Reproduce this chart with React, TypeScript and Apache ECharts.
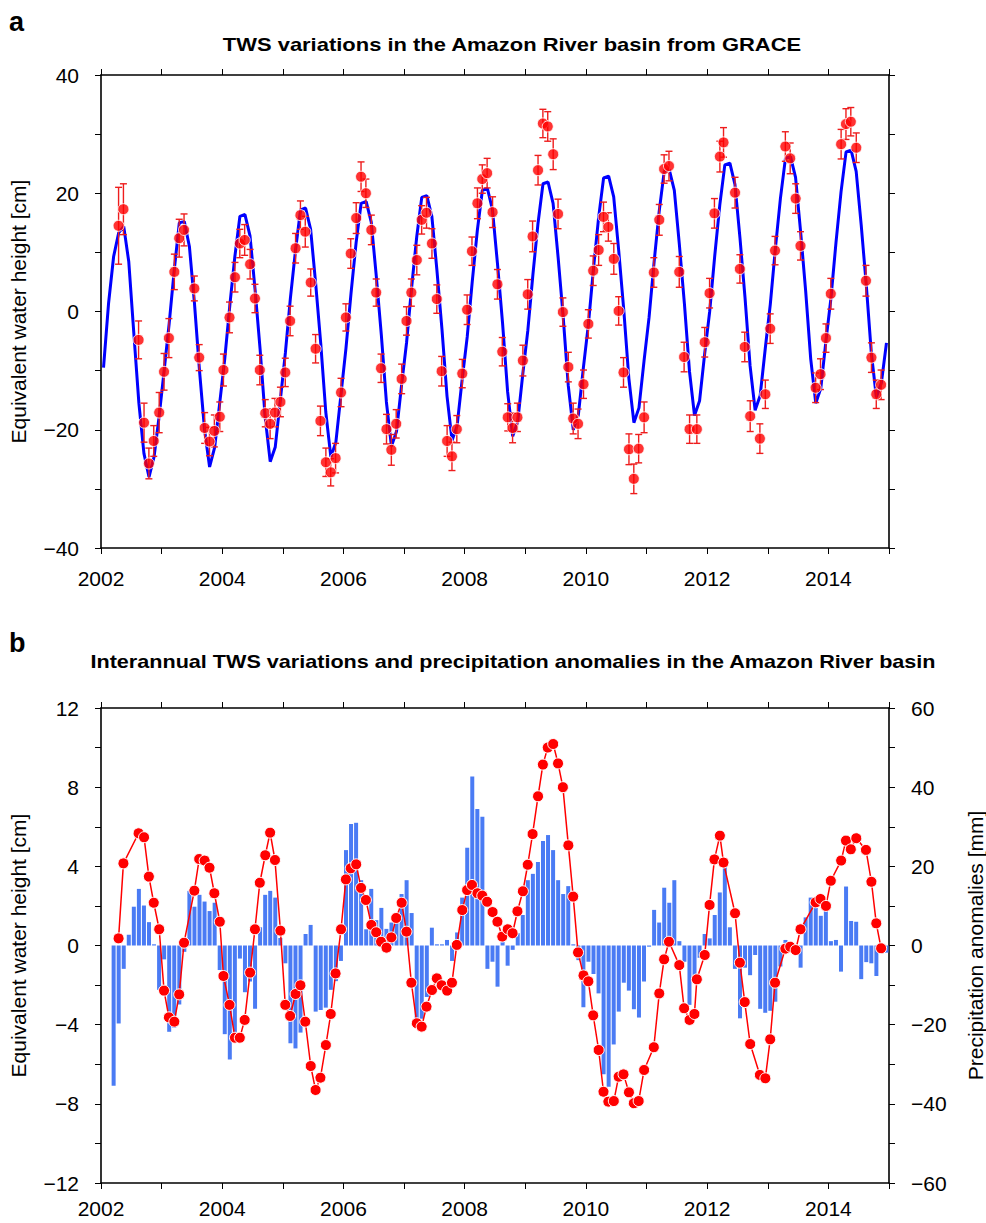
import React, { useEffect, useRef } from 'react';
import * as echarts from 'echarts';

const FONT = '"Liberation Sans", Arial, Helvetica, sans-serif';

// ---------- Panel a: GRACE monthly TWS (cm) ----------
const graceTimes = [
  2002.29, 2002.37, 2002.62, 2002.71, 2002.79, 2002.87, 2002.96,
  2003.04, 2003.12, 2003.21, 2003.29, 2003.37, 2003.54, 2003.62, 2003.71, 2003.79, 2003.87, 2003.96,
  2004.02, 2004.12, 2004.21, 2004.29, 2004.37, 2004.46, 2004.54, 2004.62, 2004.71, 2004.79, 2004.87, 2004.96,
  2005.04, 2005.12, 2005.21, 2005.29, 2005.37, 2005.46, 2005.54, 2005.62, 2005.71, 2005.79, 2005.87, 2005.96,
  2006.04, 2006.12, 2006.21, 2006.29, 2006.37, 2006.46, 2006.54, 2006.62, 2006.71, 2006.79, 2006.87, 2006.96,
  2007.04, 2007.12, 2007.21, 2007.29, 2007.37, 2007.46, 2007.54, 2007.62, 2007.71, 2007.79, 2007.87, 2007.96,
  2008.04, 2008.12, 2008.21, 2008.29, 2008.37, 2008.46, 2008.54, 2008.62, 2008.71, 2008.79, 2008.87, 2008.96,
  2009.04, 2009.12, 2009.21, 2009.29, 2009.37, 2009.46, 2009.54, 2009.62, 2009.71, 2009.79, 2009.87, 2009.96,
  2010.04, 2010.12, 2010.21, 2010.29, 2010.37, 2010.46, 2010.54, 2010.62, 2010.71, 2010.79, 2010.87, 2010.96,
  2011.12, 2011.21, 2011.29, 2011.37, 2011.54, 2011.62, 2011.71, 2011.83, 2011.96,
  2012.04, 2012.12, 2012.21, 2012.27, 2012.46, 2012.54, 2012.62, 2012.71, 2012.87, 2012.96,
  2013.04, 2013.12, 2013.29, 2013.37, 2013.46, 2013.54, 2013.79, 2013.87, 2013.96,
  2014.04, 2014.21, 2014.29, 2014.37, 2014.46, 2014.62, 2014.71, 2014.79, 2014.87,
];

const graceTws = [
  14.5, 17.3, -4.8, -18.8, -25.7, -21.9, -17.1,
  -10.2, -4.5, 6.7, 12.4, 13.8, 3.9, -7.8, -19.7, -22.0, -20.2, -17.8,
  -9.9, -1.0, 5.8, 11.5, 12.1, 8.0, 2.2, -9.9, -17.2, -19.0, -17.1, -15.3,
  -10.3, -1.6, 10.7, 16.3, 13.5, 4.9, -6.3, -18.5, -25.5, -27.2, -24.8, -13.7,
  -1.0, 9.8, 15.8, 22.8, 20.0, 13.8, 3.2, -9.6, -19.9, -23.4, -19.0, -11.4,
  -1.6, 3.2, 8.7, 15.5, 16.7, 11.5, 2.1, -10.1, -21.9, -24.5, -19.9, -10.5,
  0.3, 10.2, 18.3, 22.4, 23.4, 16.8, 4.6, -6.8, -17.9, -19.7, -17.9, -8.3,
  2.9, 12.7, 23.9, 31.8, 31.3, 26.6, 16.5, -0.1, -9.4, -18.1, -19.0, -12.3,
  -2.1, 6.9, 10.4, 16.0, 14.3, 8.9, 0.1, -10.3, -23.3, -28.3, -23.2, -17.9,
  6.6, 15.5, 24.1, 24.6, 6.7, -7.7, -19.9, -19.9, -5.2,
  3.1, 16.6, 26.2, 28.6, 20.1, 7.2, -6.0, -17.7, -21.5, -14.0,
  -2.9, 10.3, 27.9, 25.9, 19.1, 11.1, -12.9, -10.6, -4.5,
  3.0, 28.3, 31.7, 32.1, 27.7, 5.2, -7.8, -14.0, -12.4,
];

const graceErr = [
  6.5, 4.3, 3.2, 3.3, 2.6, 2.6, 3.4,
  3.1, 3.3, 3.0, 3.2, 2.7, 2.1, 2.2, 2.6, 2.4, 2.7, 2.5,
  2.7, 2.6, 2.5, 2.4, 2.6, 2.5, 2.4, 2.5, 2.3, 2.5, 2.4, 2.5,
  2.4, 2.5, 2.5, 2.4, 2.6, 2.3, 2.4, 2.5, 2.4, 2.3, 2.5, 2.4,
  2.3, 2.5, 2.6, 2.5, 2.4, 2.5, 2.3, 2.4, 2.5, 2.6, 2.4, 2.5,
  2.4, 2.3, 2.5, 2.4, 2.6, 2.5, 2.4, 2.5, 2.6, 2.4, 2.3, 2.4,
  2.5, 2.4, 2.6, 2.4, 2.5, 2.6, 2.5, 2.4, 2.3, 2.5, 2.4, 2.6,
  2.5, 2.6, 2.5, 2.4, 2.5, 2.6, 2.5, 2.4, 2.5, 2.6, 2.5, 2.4,
  2.4, 2.5, 2.6, 2.5, 2.4, 2.6, 2.4, 2.5, 2.6, 2.5, 2.4, 2.6,
  2.5, 2.6, 2.4, 2.5, 2.6, 2.5, 2.4, 2.4, 2.5,
  2.5, 2.5, 2.6, 2.5, 2.6, 2.4, 2.5, 2.6, 2.5, 2.4,
  2.5, 2.4, 2.5, 2.6, 2.5, 2.4, 2.5, 2.6, 2.4,
  2.6, 2.5, 2.6, 2.4, 2.5, 2.6, 2.5, 2.4, 2.5,
];

// Model fit, monthly from Jan 2002 to Dec 2014 (cm)
const fitStartYear = 2002;
const fitValues = [
  -9.5, 1.4, 9.3, 13.3, 14.4, 8.4, -3.7, -15.5, -24.0, -28.0, -24.6, -17.8,
  -10.0, -2.0, 7.0, 15.0, 15.2, 11.0, 1.4, -10.0, -20.0, -26.3, -23.0, -15.5,
  -8.0, 1.0, 9.3, 16.1, 16.4, 12.8, 3.7, -6.4, -17.9, -25.4, -22.9, -15.0,
  -7.0, 2.3, 10.3, 17.2, 17.5, 13.9, 4.7, -5.4, -17.0, -24.6, -22.1, -14.1,
  -6.2, 3.1, 11.6, 18.3, 18.6, 15.1, 6.0, -4.0, -15.3, -22.8, -20.3, -12.5,
  -5.2, 4.1, 12.6, 19.3, 19.6, 16.1, 7.0, -3.0, -14.3, -21.8, -19.3, -11.5,
  -4.3, 5.1, 13.7, 20.5, 20.8, 17.2, 8.0, -2.0, -13.6, -21.1, -18.6, -10.6,
  -3.2, 6.2, 14.8, 21.6, 21.9, 18.3, 9.1, -0.9, -12.5, -20.0, -17.5, -9.5,
  -2.1, 7.3, 15.8, 22.6, 22.9, 19.4, 10.2, 0.2, -11.3, -18.8, -16.3, -8.4,
  -1.0, 8.4, 16.9, 23.7, 24.0, 20.5, 11.3, 1.3, -10.1, -17.6, -15.1, -7.2,
  0.0, 9.4, 18.0, 24.8, 25.1, 21.5, 12.4, 2.3, -9.2, -16.7, -14.2, -6.3,
  1.2, 10.6, 19.1, 25.9, 26.2, 22.7, 13.5, 3.5, -8.0, -15.5, -13.0, -5.1,
  2.2, 11.6, 20.2, 27.0, 27.3, 23.7, 14.6, 4.5, -7.0, -14.5, -12.0, -5.3,
];

// ---------- Panel b ----------
const interTimes = [
  2002.29, 2002.37, 2002.62, 2002.71, 2002.79, 2002.87, 2002.96,
  2003.04, 2003.12, 2003.21, 2003.29, 2003.37, 2003.54, 2003.62, 2003.71, 2003.79, 2003.87, 2003.96,
  2004.02, 2004.12, 2004.21, 2004.29, 2004.37, 2004.46, 2004.54, 2004.62, 2004.71, 2004.79, 2004.87, 2004.96,
  2005.04, 2005.12, 2005.21, 2005.29, 2005.37, 2005.46, 2005.54, 2005.62, 2005.71, 2005.79, 2005.87, 2005.96,
  2006.04, 2006.12, 2006.21, 2006.29, 2006.37, 2006.46, 2006.54, 2006.62, 2006.71, 2006.79, 2006.87, 2006.96,
  2007.04, 2007.12, 2007.21, 2007.29, 2007.37, 2007.46, 2007.54, 2007.62, 2007.71, 2007.79, 2007.87, 2007.96,
  2008.04, 2008.12, 2008.21, 2008.29, 2008.37, 2008.46, 2008.54, 2008.62, 2008.71, 2008.79, 2008.87, 2008.96,
  2009.04, 2009.12, 2009.21, 2009.29, 2009.37, 2009.46, 2009.54, 2009.62, 2009.71, 2009.79, 2009.87, 2009.96,
  2010.04, 2010.12, 2010.21, 2010.29, 2010.37, 2010.46, 2010.54, 2010.62, 2010.71, 2010.79, 2010.87, 2010.96,
  2011.12, 2011.21, 2011.29, 2011.37, 2011.54, 2011.62, 2011.71, 2011.79, 2011.83, 2011.96,
  2012.04, 2012.12, 2012.21, 2012.27, 2012.46, 2012.54, 2012.62, 2012.71, 2012.87, 2012.96,
  2013.04, 2013.12, 2013.29, 2013.37, 2013.46, 2013.54, 2013.79, 2013.87, 2013.96,
  2014.04, 2014.21, 2014.29, 2014.37, 2014.46, 2014.62, 2014.71, 2014.79, 2014.87,
];

const interTws = [
  0.36, 4.15, 5.67, 5.47, 3.48, 2.16, 0.82,
  -2.28, -3.63, -3.85, -2.47, 0.14, 2.77, 4.37, 4.29, 3.93, 2.64, 1.2,
  -1.54, -3.0, -4.66, -4.66, -3.76, -1.37, 0.82, 3.17, 4.56, 5.7, 4.32, 0.75,
  -3.0, -3.56, -2.45, -2.01, -3.85, -6.09, -7.3, -6.68, -5.03, -3.46, -1.41, 0.82,
  3.34, 3.9, 4.1, 2.91, 2.3, 1.04, 0.67, 0.19, -0.11, 0.41, 1.39, 2.16,
  0.7, -1.88, -3.93, -4.1, -3.09, -2.25, -1.66, -2.01, -2.28, -1.88, 0.03, 1.79,
  2.8, 3.06, 2.64, 2.52, 2.21, 1.69, 1.2, 0.45, 0.82, 0.62, 1.73, 2.74,
  4.08, 5.63, 7.54, 9.14, 10.0, 10.18, 9.2, 8.0, 5.06, 2.47, -0.35, -1.51,
  -1.81, -3.53, -5.28, -7.39, -7.89, -7.86, -6.63, -6.51, -7.42, -7.97, -7.86, -6.29,
  -5.14, -2.42, -0.7, 0.19, -0.99, -3.17, -3.76, -3.46, -1.71, -0.48,
  2.05, 4.35, 5.55, 4.19, 1.63, -0.87, -2.86, -4.98, -6.54, -6.71,
  -4.74, -1.88, -0.16, -0.06, -0.23, 0.82, 2.18, 2.35, 2.0,
  3.27, 4.29, 5.3, 4.86, 5.42, 4.83, 3.22, 1.12, -0.14,
];

// Precipitation anomalies (mm), monthly from Mar 2002 to Dec 2014
const precipStartYear = 2002;
const precipStartMonth = 3;
const precipValues = [
  -35.4, -19.7, -5.9, 2.7, 9.8, 14.3, 10.1, 5.9, 0.3, -11.2,
  -3.5, -21.8, -20.8, -14.9, -1.6, 13.8, 9.8, 12.8, 11.1, 8.7, 10.8, -6.2,
  -22.4, -28.8, -22.2, -3.3, -11.8, -9.1, -16.0, 4.6, 12.8, 13.8, 12.1, 1.9,
  -4.5, -24.7, -26.0, -22.0, 2.9, 5.2, -16.7, -16.3, -15.7, -11.2, -9.0, -3.9,
  24.1, 30.7, 31.0, 16.5, 4.1, 14.3, 6.4, 9.5, 4.2, 5.8, 7.3, 13.0,
  16.5, 8.2, -19.7, -18.5, -13.0, 4.5, 0.3, 0.3, 1.4, -3.9, 3.3, 12.1,
  24.7, 42.7, 34.5, 32.5, -5.9, -4.1, -10.4, 0.9, -5.1, -1.1, 3.1, 7.7,
  16.5, 18.1, 21.1, 26.4, 27.9, 24.1, 16.5, 13.0, 15.0, 0.3, -3.7, -15.6,
  -4.1, -7.2, -12.1, -32.5, -35.7, -25.0, -16.7, -9.4, -11.4, -16.1, -18.2, -9.1,
  -0.3, 9.0, 5.8, 14.6, 10.8, 16.5, 1.1, -4.1, -15.0, -7.5, -3.1, 2.9,
  1.8, 7.7, 13.4, 19.9, 4.6, -5.9, -18.4, -5.6, -7.5, -2.4, -16.0, -17.0,
  -16.5, -14.2, -5.3, 1.4, -1.5, -1.0, -5.6, 7.1, 12.1, 9.8, 7.5, 9.8,
  1.1, 1.4, -6.6, 14.9, 6.2, 6.0, -8.5, -4.2, -4.5, -7.7, -2.0, -1.8,
];

const yearTicks = [2002, 2004, 2006, 2008, 2010, 2012, 2014];

const titleA = 'TWS variations in the Amazon River basin from GRACE';
const titleB = 'Interannual TWS variations and precipitation anomalies in the Amazon River basin';
const yNameCm = 'Equivalent water height [cm]';
const yNameMm = 'Precipitation anomalies [mm]';

const fmt = (v: number) => (v < 0 ? '\u2212' + Math.abs(v) : String(v));

function mkX(gridIndex: number, position: string, showLabel: boolean, margin: number) {
  return {
    type: 'value',
    gridIndex,
    position,
    min: 2002,
    max: 2015,
    interval: 1,
    axisLine: { show: true, onZero: false, lineStyle: { color: '#000', width: 1.6 } },
    axisTick: { show: true, inside: false, length: 6, lineStyle: { color: '#000', width: 1 } },
    axisLabel: {
      show: showLabel,
      margin,
      fontSize: 21,
      fontFamily: FONT,
      color: '#000',
      formatter: (v: number) => (yearTicks.indexOf(v) >= 0 ? String(v) : ''),
    },
    splitLine: { show: false },
  };
}

function mkY(
  gridIndex: number,
  position: string,
  min: number,
  max: number,
  interval: number,
  labelEvery: number | null,
  name: string,
  nameGap: number
) {
  return {
    type: 'value',
    gridIndex,
    position,
    min,
    max,
    interval,
    name,
    nameLocation: 'middle',
    nameRotate: 90,
    nameGap,
    nameTextStyle: { fontSize: 21, fontFamily: FONT, color: '#000' },
    axisLine: { show: true, onZero: false, lineStyle: { color: '#000', width: 1.6 } },
    axisTick: { show: true, inside: false, length: 6, lineStyle: { color: '#000', width: 1 } },
    axisLabel: {
      show: labelEvery !== null,
      margin: 22,
      fontSize: 21,
      fontFamily: FONT,
      color: '#000',
      formatter: (v: number) =>
        labelEvery !== null && Math.round(v) % labelEvery === 0 ? fmt(Math.round(v)) : '',
    },
    splitLine: { show: false },
  };
}

export default function App() {
  const ref = useRef<HTMLDivElement>(null);

  useEffect(() => {
    if (!ref.current) return;
    const chart = echarts.init(ref.current, undefined, { renderer: 'svg' });

    const fitData = fitValues.map((v, i) => [fitStartYear + (i + 0.5) / 12, v]);
    const graceData = graceTimes.map((t, i) => [t, graceTws[i], graceErr[i]]);
    const interData = interTimes.map((t, i) => [t, interTws[i]]);
    const precipData = precipValues.map((v, i) => [
      precipStartYear + (precipStartMonth - 0.5 + i) / 12,
      v,
    ]);

    const option: any = {
      animation: false,
      backgroundColor: '#ffffff',
      textStyle: { fontFamily: FONT },
      grid: [
        { left: 101, top: 75, width: 788, height: 473, containLabel: false, outerBoundsMode: 'none' },
        { left: 101, top: 708, width: 788, height: 475, containLabel: false, outerBoundsMode: 'none' },
      ],
      xAxis: [
        mkX(0, 'bottom', true, 20),
        mkX(0, 'top', false, 8),
        mkX(1, 'bottom', true, 15),
        mkX(1, 'top', false, 8),
      ],
      yAxis: [
        mkY(0, 'left', -40, 40, 10, 20, yNameCm, 72),
        mkY(0, 'right', -40, 40, 10, null, '', 0),
        mkY(1, 'left', -12, 12, 2, 4, yNameCm, 72),
        mkY(1, 'right', -60, 60, 10, 20, yNameMm, 76),
      ],
      series: [
        {
          type: 'line',
          xAxisIndex: 0,
          yAxisIndex: 0,
          data: fitData,
          showSymbol: false,
          symbol: 'none',
          lineStyle: { color: '#0000ff', width: 3 },
          z: 2,
        },
        {
          type: 'custom',
          xAxisIndex: 0,
          yAxisIndex: 0,
          data: graceData,
          encode: { x: 0, y: 1 },
          z: 3,
          renderItem: (params: any, api: any) => {
            const x = api.value(0);
            const y = api.value(1);
            const e = api.value(2);
            const top = api.coord([x, y + e]);
            const bot = api.coord([x, y - e]);
            const hw = 3.5;
            const st = { stroke: '#ee1d1d', lineWidth: 1.4 };
            return {
              type: 'group',
              children: [
                { type: 'line', shape: { x1: top[0], y1: top[1], x2: bot[0], y2: bot[1] }, style: st },
                { type: 'line', shape: { x1: top[0] - hw, y1: top[1], x2: top[0] + hw, y2: top[1] }, style: st },
                { type: 'line', shape: { x1: bot[0] - hw, y1: bot[1], x2: bot[0] + hw, y2: bot[1] }, style: st },
              ],
            };
          },
        },
        {
          type: 'scatter',
          xAxisIndex: 0,
          yAxisIndex: 0,
          data: graceData.map((d) => [d[0], d[1]]),
          symbol: 'circle',
          symbolSize: 11,
          itemStyle: { color: '#ff0000', borderColor: '#ffffff', borderWidth: 1 },
          z: 4,
        },
        {
          type: 'bar',
          xAxisIndex: 2,
          yAxisIndex: 3,
          data: precipData,
          barWidth: 4,
          itemStyle: { color: '#4a7bf4' },
          z: 2,
        },
        {
          type: 'line',
          xAxisIndex: 2,
          yAxisIndex: 2,
          data: interData,
          symbol: 'circle',
          symbolSize: 11,
          showSymbol: true,
          lineStyle: { color: '#ff0000', width: 1.5 },
          itemStyle: { color: '#ff0000', borderColor: '#ffffff', borderWidth: 1 },
          z: 4,
        },
      ],
      graphic: [
        {
          type: 'text',
          x: 9,
          y: 22,
          style: { text: 'a', font: 'bold 27px ' + FONT, fill: '#000', textVerticalAlign: 'middle' },
        },
        {
          type: 'text',
          x: 512,
          y: 45,
          scaleX: 1.22,
          style: {
            text: titleA,
            font: 'bold 18px ' + FONT,
            fill: '#000',
            textAlign: 'center',
            textVerticalAlign: 'middle',
          },
        },
        {
          type: 'text',
          x: 9,
          y: 643,
          style: { text: 'b', font: 'bold 27px ' + FONT, fill: '#000', textVerticalAlign: 'middle' },
        },
        {
          type: 'text',
          x: 513,
          y: 662,
          scaleX: 1.2,
          style: {
            text: titleB,
            font: 'bold 18px ' + FONT,
            fill: '#000',
            textAlign: 'center',
            textVerticalAlign: 'middle',
          },
        },
      ],
    };

    chart.setOption(option);
    return () => chart.dispose();
  }, []);

  return (
    <div
      ref={ref}
      style={{ position: 'fixed', left: 0, top: 0, width: 986, height: 1223, background: '#fff' }}
    />
  );
}
